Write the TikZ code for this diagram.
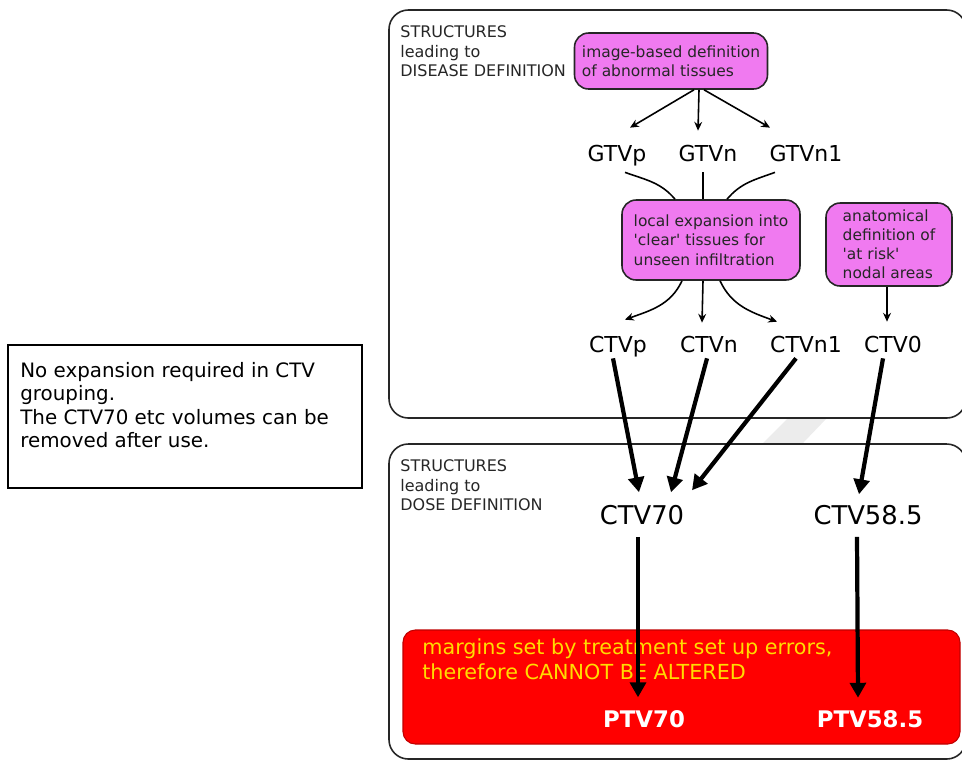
\documentclass[tikz,border=0pt]{standalone}
\usepackage{fontspec}
\setmainfont{DejaVu Sans}
\usetikzlibrary{arrows.meta,positioning}
\definecolor{tissuepink}{RGB}{240,122,240}
\definecolor{marginred}{RGB}{255,0,0}
\definecolor{marginyellow}{RGB}{255,220,0}

\begin{document}
\begin{tikzpicture}[x=0.02cm, y=-0.02cm,
  every node/.style={inner sep=0pt},
  pinkbox/.style={draw=black!85, line width=0.9pt, rounded corners=8pt, fill=tissuepink, align=left, text=black!85, font=\fontsize{8.8}{11}\selectfont},
  grouptitle/.style={anchor=north west, align=left, text=black!85, font=\fontsize{9.1}{11.3}\selectfont},
  volname/.style={font=\fontsize{12.5}{15}\selectfont, text height=9.1pt, text depth=0pt},
  dosename/.style={font=\fontsize{14.7}{17}\selectfont, text height=10.7pt, text depth=0pt},
  ptvname/.style={font=\fontsize{13}{15}\selectfont\bfseries, text=white, text height=9.5pt, text depth=0pt},
  link/.style={line width=0.9pt},
  thinarrow/.style={link, -{Stealth[length=5pt,width=4.5pt]}},
  fatarrow/.style={line width=2.4pt, -{Triangle[length=8.5pt,width=9pt]}}]

\useasboundingbox (0,0) rectangle (962,762);

% smudge between the panels
\fill[gray!15] (763,443) -- (803,443) -- (826,419) -- (787,419) -- cycle;

% panels
\draw[black!85, line width=0.9pt, rounded corners=11pt] (389,10) rectangle (966,418);
\draw[black!85, line width=0.9pt, rounded corners=11pt] (389,444) rectangle (966,759);
\draw[line width=1.1pt] (8,345) rectangle (362,488);
\draw[fill=marginred, draw=marginred!75!black, line width=0.6pt, rounded corners=7pt] (403,630) rectangle (960,744);

\node[grouptitle] (disease) at (400,25) {STRUCTURES\\leading to\\DISEASE DEFINITION};
\node[grouptitle] (dose) at (400,459) {STRUCTURES\\leading to\\DOSE DEFINITION};
\node[anchor=north west, align=left, font=\fontsize{11.3}{13.3}\selectfont] (note) at (20,362)
  {No expansion required in CTV\\grouping.\\The CTV70 etc volumes can be\\removed after use.};

\node[pinkbox, minimum width=3.86cm, minimum height=1.12cm] (image) at (671,61) {image-based definition\\of abnormal tissues};
\node[pinkbox, minimum width=3.56cm, minimum height=1.6cm] (expand) at (711,240)
  {local expansion into\\\textquotesingle clear\textquotesingle{} tissues for\\unseen infiltration};
\node[pinkbox, minimum width=2.52cm, minimum height=1.66cm, font=\fontsize{8.8}{10.8}\selectfont] (atrisk) at (889,244.5)
  {anatomical\\definition of\\\textquotesingle at risk\textquotesingle\\nodal areas};

\node[volname] (gtvp) at (617,153) {GTVp};
\node[volname] (gtvn) at (708,153) {GTVn};
\node[volname] (gtvn1) at (806,153) {GTVn1};
\node[volname] (ctvp) at (618,344) {CTVp};
\node[volname] (ctvn) at (709,344) {CTVn};
\node[volname] (ctvn1) at (806,344) {CTVn1};
\node[volname] (ctv0) at (893,344) {CTV0};
\node[dosename] (ctv70) at (642,515) {CTV70};
\node[dosename] (ctv585) at (868,515) {CTV58.5};

\node[anchor=north west, align=left, text=marginyellow, font=\fontsize{11.8}{14.2}\selectfont] (margins) at (422,638)
  {margins set by treatment set up errors,\\therefore CANNOT BE ALTERED};
\node[ptvname] (ptv70) at (644,719) {PTV70};
\node[ptvname] (ptv585) at (870,719) {PTV58.5};

\draw[thinarrow] ([shift={(23,0)}]image.south) -- ([shift={(13,-17)}]gtvp.north);
\draw[thinarrow] ([shift={(28,0)}]image.south) -- ([shift={(-10,-14)}]gtvn.north);
\draw[thinarrow] ([shift={(33,0)}]image.south) -- ([shift={(-36,-17)}]gtvn1.north);

\draw[link] ([shift={(8,11)}]gtvp.south) to[out=-20,in=130] ([shift={(-36,0)}]expand.north);
\draw[link] ([shift={(-5,11)}]gtvn.south) -- ([shift={(-8,0)}]expand.north);
\draw[link] ([shift={(-31,11)}]gtvn1.south) to[out=-160,in=50] ([shift={(16,0)}]expand.north);

\draw[thinarrow] ([shift={(-29,0)}]expand.south) to[out=-115,in=20] ([shift={(7,-16)}]ctvp.north);
\draw[thinarrow] ([shift={(-8,0)}]expand.south) -- ([shift={(-7,-13)}]ctvn.north);
\draw[thinarrow] ([shift={(9,0)}]expand.south) to[out=-65,in=160] ([shift={(-29,-14)}]ctvn1.north);
\draw[thinarrow] ([shift={(-2,0)}]atrisk.south) -- ([shift={(-6,-14)}]ctv0.north);

\draw[fatarrow] ([shift={(-5,6)}]ctvp.south) -- ([shift={(-3,-13)}]ctv70.north);
\draw[fatarrow] ([shift={(-2,6)}]ctvn.south) -- ([shift={(29,-13)}]ctv70.north);
\draw[fatarrow] ([shift={(-10,6)}]ctvn1.south) -- ([shift={(50,-15)}]ctv70.north);
\draw[fatarrow] ([shift={(-10,6)}]ctv0.south) -- ([shift={(-9,-11)}]ctv585.north);
\draw[fatarrow] ([shift={(-4,12)}]ctv70.south) -- ([shift={(-6,-13)}]ptv70.north);
\draw[fatarrow] ([shift={(-11,12)}]ctv585.south) -- ([shift={(-12,-12.6)}]ptv585.north);
\end{tikzpicture}
\end{document}
